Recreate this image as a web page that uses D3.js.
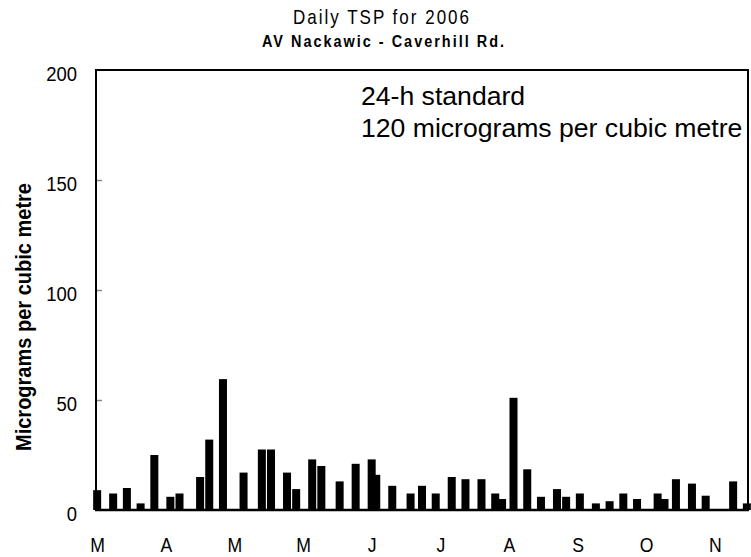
<!DOCTYPE html>
<html>
<head>
<meta charset="utf-8">
<script src="https://cdn.jsdelivr.net/npm/d3@7"></script>
<style>
  html, body { margin: 0; padding: 0; background: #fff; }
  svg { display: block; }
  text { font-family: "Liberation Sans", Arial, sans-serif; fill: #000; }
</style>
</head>
<body>
<svg id="chart" width="751" height="557"></svg>
<script>
// ---- data ----
const sampleDates = [
  "2006-03-02","2006-03-09","2006-03-15","2006-03-21","2006-03-27",
  "2006-04-03","2006-04-07","2006-04-16","2006-04-20","2006-04-26",
  "2006-05-05","2006-05-13","2006-05-17","2006-05-24","2006-05-28",
  "2006-06-04","2006-06-08","2006-06-16","2006-06-23","2006-06-30",
  "2006-07-02","2006-07-09","2006-07-17","2006-07-22","2006-07-28",
  "2006-08-04","2006-08-10","2006-08-17","2006-08-23","2006-08-26",
  "2006-08-31","2006-09-06","2006-09-12","2006-09-19","2006-09-23",
  "2006-09-29","2006-10-06","2006-10-12","2006-10-18","2006-10-24",
  "2006-11-02","2006-11-05","2006-11-10","2006-11-17","2006-11-23",
  "2006-12-05","2006-12-11"
];
const tspValues = [
  9, 7.5, 10, 3, 25,
  6, 7.5, 15, 32, 59.5,
  17, 27.5, 27.5, 17, 9.5,
  23, 20, 13, 21, 23,
  16, 11, 7.5, 11, 7.5,
  15, 14, 14, 7.5, 5,
  51, 18.5, 6, 9.5, 6,
  7.5, 3, 4, 7.5, 5,
  7.5, 5, 14, 12, 6.5,
  13, 3
];
const monthTickDates = ["2006-03-02","2006-04-01","2006-05-01","2006-05-31","2006-06-30",
                        "2006-07-30","2006-08-29","2006-09-28","2006-10-28","2006-11-27"];
const monthTickLabels = ["M","A","M","M","J","J","A","S","O","N"];
const yTickValues = [0, 50, 100, 150, 200];
const titleText = "Daily TSP for 2006";
const subtitleText = "AV Nackawic - Caverhill Rd.";
const yAxisTitle = "Micrograms per cubic metre";
const noteLines = ["24-h standard", "120 micrograms per cubic metre"];

// ---- layout ----
const parse = d3.utcParse("%Y-%m-%d");
const DAY = 864e5;
const plot = { left: 96, right: 748, top: 70, bottom: 510 };
const start = parse(sampleDates[0]);

const x = d3.scaleUtc()
  .domain([new Date(+start - 0.5 * DAY), new Date(+start + 284.5 * DAY)])
  .range([plot.left, plot.right]);
const y = d3.scaleLinear().domain([0, 200]).range([plot.bottom, plot.top]);

const svg = d3.select("#chart");
const data = sampleDates.map((d, i) => ({ date: parse(d), value: tspValues[i] }));
const barW = x(new Date(+start + 3.5 * DAY)) - x(start);

// condensed text helper (narrow face emulation)
function placeText(sel, tx, ty, sx) {
  sel.attr("x", 0).attr("y", 0)
     .attr("transform", (d, i) => `translate(${typeof tx === "function" ? tx(d, i) : tx},${typeof ty === "function" ? ty(d, i) : ty}) scale(${sx},1)`);
}

// bars
svg.append("g").selectAll("rect").data(data).join("rect")
  .attr("x", d => x(d.date) - barW / 2)
  .attr("y", d => y(d.value))
  .attr("width", barW)
  .attr("height", d => y(0) - y(d.value))
  .attr("fill", "#000");

// y axis (ticks inward, gray)
const yAxis = d3.axisRight(y).tickValues(yTickValues.filter(v => v > 0 && v < 200)).tickSize(6).tickFormat("");
const gy = svg.append("g").attr("transform", `translate(${plot.left},0)`).call(yAxis);
gy.select(".domain").remove();
gy.selectAll(".tick line").attr("stroke", "#888").attr("stroke-width", 1.5);

// y tick labels
svg.append("g").selectAll("text").data(yTickValues).join("text")
  .attr("dy", "0.36em")
  .attr("text-anchor", "end")
  .attr("font-size", 21)
  .text(d => d)
  .call(placeText, 77, d => y(d) + 3.5, 0.88);

// x axis labels
const xAxis = d3.axisBottom(x).tickValues(monthTickDates.map(parse)).tickSize(0)
  .tickFormat((d, i) => monthTickLabels[i]);
const gx = svg.append("g").attr("transform", `translate(0,${plot.bottom})`).call(xAxis);
gx.select(".domain").remove();
gx.selectAll("text")
  .attr("font-family", null).attr("font-size", 21)
  .attr("y", 0).attr("dy", 0)
  .attr("transform", "translate(0,41.5) scale(0.84,1)");
gx.attr("font-family", null).attr("font-size", null);

// frame
svg.append("path")
  .attr("d", `M${plot.left},${plot.bottom}V${plot.top}H${plot.right}V${plot.bottom}`)
  .attr("fill", "none").attr("stroke", "#000").attr("stroke-width", 2);
svg.append("line")
  .attr("x1", plot.left - 1).attr("x2", plot.right + 1)
  .attr("y1", y(0)).attr("y2", y(0))
  .attr("stroke", "#000").attr("stroke-width", 2.5);

// titles
const tsx = 0.85;
svg.append("text")
  .attr("text-anchor", "middle").attr("font-size", 20)
  .attr("textLength", 176 / tsx).attr("lengthAdjust", "spacing")
  .text(titleText)
  .call(placeText, 381, 24, tsx);
svg.append("text")
  .attr("text-anchor", "middle").attr("font-size", 17).attr("font-weight", "bold")
  .attr("textLength", 242 / tsx).attr("lengthAdjust", "spacing")
  .text(subtitleText)
  .call(placeText, 383, 47, tsx);

// y axis title
svg.append("text")
  .attr("text-anchor", "middle").attr("font-size", 22).attr("font-weight", "bold")
  .attr("textLength", 268).attr("lengthAdjust", "spacingAndGlyphs")
  .attr("transform", `translate(31,317) rotate(-90)`)
  .text(yAxisTitle);

// standard note
svg.append("g").selectAll("text").data(noteLines).join("text")
  .attr("x", 361).attr("y", (d, i) => 105 + i * 32)
  .attr("font-size", 26.6)
  .text(d => d);
</script>
</body>
</html>
